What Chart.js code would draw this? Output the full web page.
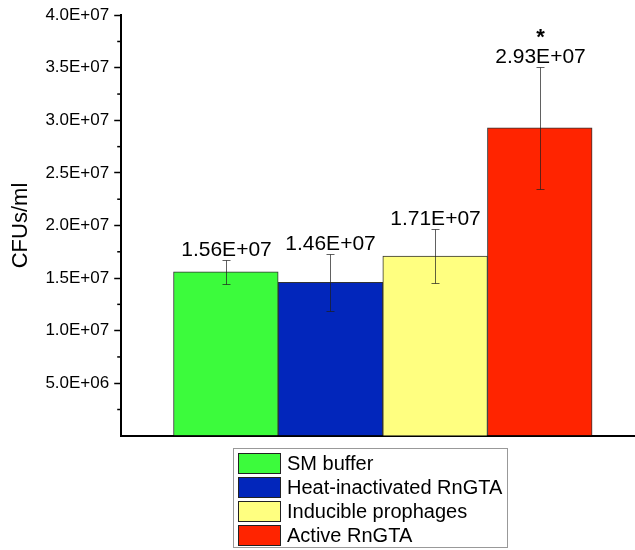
<!DOCTYPE html>
<html>
<head>
<meta charset="utf-8">
<script src="https://cdn.jsdelivr.net/npm/chart.js@4.4.0/dist/chart.umd.min.js"></script>
<style>
  body { margin: 0; background: #fff; font-family: "Liberation Sans", Arial, sans-serif; }
  #wrap { position: relative; width: 635px; height: 550px; }
  #chart { position: absolute; left: 0; top: 0; }
  #legend { position: absolute; left: 233px; top: 448px; width: 275px; height: 100px;
    border: 1px solid #999; box-sizing: border-box; padding: 2px 0 0 4px; }
  .row { display: flex; align-items: center; height: 24px; }
  .sw { width: 43px; height: 21px; border: 1px solid #222; box-sizing: border-box; margin-right: 6px; }
  .lab { font-size: 20px; line-height: 21px; color: #000; white-space: nowrap; }
</style>
</head>
<body>
<div id="wrap">
  <canvas id="chart" width="635" height="451"></canvas>
  <div id="legend"></div>
</div>
<script>
const groups = ["SM buffer", "Heat-inactivated RnGTA", "Inducible prophages", "Active RnGTA"];
const positions = [1, 2, 3, 4];
const means = [1.56e7, 1.46e7, 1.71e7, 2.93e7];
const errors = [1.14e6, 2.7e6, 2.57e6, 5.8e6];
const marks = ["", "", "", "*"];
const barColors = ["#3cfb3c", "#0226bb", "#ffff80", "#ff2400"];

const FONT = "\"Liberation Sans\", Arial, sans-serif";

// 1.56e7 -> "1.56E+07"
const fmt = (v, d) => {
  const parts = v.toExponential(d).split("e");
  const n = parseInt(parts[1], 10);
  return parts[0] + "E" + (n < 0 ? "-" : "+") + String(Math.abs(n)).padStart(2, "0");
};
const isMajor = (v) => Math.abs(v / 5e6 - Math.round(v / 5e6)) < 1e-6;

const extras = {
  id: "extras",
  afterDatasetsDraw(chart) {
    const ctx = chart.ctx;
    const x = chart.scales.x;
    const y = chart.scales.y;
    ctx.save();

    // minor ticks
    ctx.strokeStyle = "#000";
    ctx.lineWidth = 1.5;
    y.ticks.forEach((t) => {
      if (isMajor(t.value)) return;
      const py = y.getPixelForValue(t.value);
      ctx.beginPath();
      ctx.moveTo(y.right - 4, py);
      ctx.lineTo(y.right, py);
      ctx.stroke();
    });

    means.forEach((m, i) => {
      const px = Math.round(x.getPixelForValue(positions[i])) + 0.5;
      const top = Math.round(y.getPixelForValue(m + errors[i])) + 0.5;
      const bot = Math.round(y.getPixelForValue(m - errors[i])) + 0.5;
      ctx.strokeStyle = "rgba(30,30,30,0.7)";
      ctx.lineWidth = 1;
      ctx.beginPath();
      ctx.moveTo(px, top); ctx.lineTo(px, bot);
      ctx.moveTo(px - 4, top); ctx.lineTo(px + 4, top);
      ctx.moveTo(px - 4, bot); ctx.lineTo(px + 4, bot);
      ctx.stroke();

      ctx.fillStyle = "#000";
      ctx.textAlign = "center";
      ctx.textBaseline = "alphabetic";
      ctx.font = "21px " + FONT;
      ctx.fillText(fmt(m, 2), px, top - 5);
      if (marks[i]) {
        ctx.font = "bold 22px " + FONT;
        ctx.fillText(marks[i], px, top - 24);
      }
    });
    ctx.restore();
  }
};

new Chart(document.getElementById("chart"), {
  type: "bar",
  data: {
    datasets: [{
      data: positions.map((p, i) => ({x: p, y: means[i]})),
      backgroundColor: barColors,
      borderColor: "#333",
      borderWidth: 1,
      categoryPercentage: 1,
      barPercentage: 1,
    }],
  },
  options: {
    responsive: false,
    animation: false,
    layout: {padding: {top: 6, left: 8, right: 0, bottom: 3}},
    plugins: {legend: {display: false}, tooltip: {enabled: false}},
    scales: {
      x: {
        type: "linear",
        min: 0,
        max: 4.91,
        offset: false,
        ticks: {display: false, stepSize: 1, includeBounds: false},
        grid: {display: false, drawTicks: false},
        border: {display: true, color: "#000", width: 2},
      },
      y: {
        min: 0,
        max: 4e7,
        ticks: {
          stepSize: 2.5e6,
          color: "#000",
          font: {family: FONT, size: 17},
          padding: 5,
          callback: (v) => (v === 0 || !isMajor(v)) ? "" : fmt(v, 1),
        },
        grid: {
          drawOnChartArea: false,
          tickLength: 7,
          tickWidth: 1.5,
          tickColor: (c) => (c.tick && c.tick.value !== 0 && isMajor(c.tick.value)) ? "#000" : "rgba(0,0,0,0)",
        },
        border: {display: true, color: "#000", width: 2},
        title: {display: true, text: "CFUs/ml", color: "#000", font: {family: FONT, size: 22}, padding: {top: 0, bottom: 6}},
      },
    },
  },
  plugins: [extras],
});

const legend = document.getElementById("legend");
groups.forEach((g, i) => {
  const row = document.createElement("div");
  row.className = "row";
  row.innerHTML = `<div class="sw" style="background:${barColors[i]}"></div><span class="lab">${g}</span>`;
  legend.appendChild(row);
});
</script>
</body>
</html>
